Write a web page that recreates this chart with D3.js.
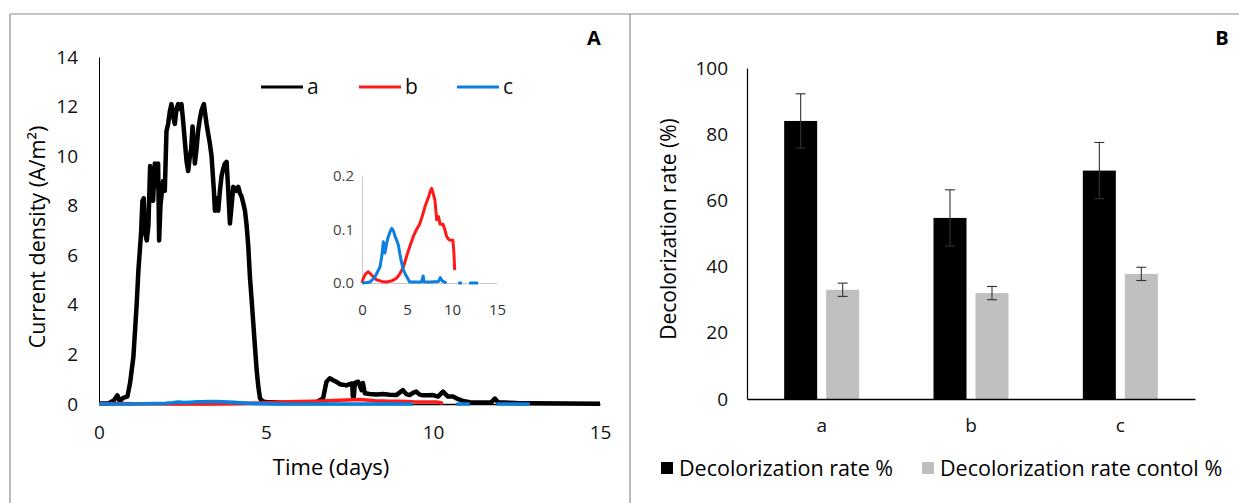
<!DOCTYPE html>
<html>
<head>
<meta charset="utf-8">
<script src="https://cdn.jsdelivr.net/npm/d3@7"></script>
<style>
  body { margin: 0; background: #fff; }
  svg { display: block; font-family: "Open Sans", sans-serif; }
</style>
</head>
<body>
<svg id="chart"></svg>
<script>
// Panel A: current density (A/m²) over time (days)
const seriesA = [
  [0, 0.02], [0.3, 0.03], [0.45, 0.15], [0.55, 0.35], [0.62, 0.1], [0.72, 0.25], [0.85, 0.3],
  [0.93, 0.85], [1.03, 1.9], [1.13, 4.07], [1.18, 5.4], [1.26, 6.9], [1.3, 8.2], [1.34, 8.3],
  [1.38, 6.9], [1.43, 6.6], [1.48, 7.2], [1.53, 9.6], [1.58, 8.5], [1.62, 8.2], [1.67, 9.7],
  [1.72, 8.8], [1.77, 9.7], [1.8, 6.6], [1.84, 8.0], [1.87, 8.4], [1.92, 9.0], [1.97, 8.6],
  [2.02, 11.0], [2.07, 11.3], [2.12, 11.8], [2.17, 12.1], [2.22, 11.6], [2.27, 11.3], [2.32, 11.9],
  [2.37, 12.1], [2.42, 11.9], [2.47, 12.1], [2.52, 11.4], [2.57, 10.6], [2.62, 9.8], [2.67, 9.4],
  [2.72, 10.0], [2.76, 10.3], [2.8, 11.2], [2.84, 10.4], [2.87, 9.7], [2.92, 10.3], [2.97, 11.05],
  [3.02, 11.5], [3.07, 11.85], [3.14, 12.1], [3.18, 11.7], [3.22, 11.3], [3.27, 10.9], [3.32, 10.5],
  [3.37, 10.0], [3.4, 9.4], [3.44, 8.6], [3.47, 7.8], [3.52, 8.3], [3.57, 7.8], [3.62, 8.6],
  [3.67, 9.2], [3.72, 9.5], [3.77, 9.7], [3.82, 9.77], [3.87, 8.6], [3.92, 7.28], [3.97, 8.0],
  [4.02, 8.76], [4.1, 8.6], [4.17, 8.76], [4.22, 8.5], [4.27, 8.36], [4.32, 8.1], [4.37, 7.8],
  [4.42, 7.2], [4.47, 6.35], [4.52, 5.1], [4.57, 4.2], [4.62, 3.25], [4.67, 2.3], [4.72, 1.37],
  [4.77, 0.7], [4.82, 0.23], [4.9, 0.1], [5.0, 0.08], [5.5, 0.05], [6.0, 0.05], [6.5, 0.06],
  [6.71, 0.23], [6.81, 0.9], [6.91, 1.04], [7.0, 0.97], [7.1, 0.9], [7.21, 0.8], [7.3, 0.78],
  [7.41, 0.75], [7.5, 0.8], [7.58, 0.83], [7.6, 0.3], [7.63, 0.3], [7.66, 0.85], [7.76, 0.9],
  [7.86, 0.56], [7.9, 0.85], [7.96, 0.43], [8.1, 0.4], [8.3, 0.38], [8.5, 0.4], [8.7, 0.37],
  [8.9, 0.36], [9.1, 0.56], [9.2, 0.4], [9.3, 0.36], [9.4, 0.45], [9.5, 0.5], [9.6, 0.38],
  [9.7, 0.35], [9.85, 0.35], [10.0, 0.36], [10.15, 0.3], [10.3, 0.5], [10.45, 0.3], [10.6, 0.3],
  [10.7, 0.23], [10.9, 0.12], [11.1, 0.07], [11.5, 0.06], [11.75, 0.07], [11.85, 0.22], [11.95, 0.07],
  [12.5, 0.04], [13, 0.03], [14, 0.02], [15, 0.01]
];

const seriesB = [
  [0, 0.0], [0.15, 0.009], [0.4, 0.017], [0.7, 0.021], [1.07, 0.015], [1.6, 0.006], [2.2, 0.003],
  [2.7, 0.002], [3.3, 0.004], [3.85, 0.009], [4.2, 0.017], [4.6, 0.03], [5.1, 0.058], [5.7, 0.087],
  [6.0, 0.098], [6.4, 0.11], [6.7, 0.125], [7.0, 0.143], [7.4, 0.161], [7.6, 0.172], [7.74, 0.177],
  [7.9, 0.168], [8.1, 0.155], [8.3, 0.118], [8.5, 0.124], [8.67, 0.11], [9.0, 0.11], [9.2, 0.1],
  [9.4, 0.087], [9.6, 0.082], [9.8, 0.08], [10.1, 0.08], [10.2, 0.06], [10.3, 0.024]
];

const seriesC = [
  [0, 0.0], [0.5, 0.001], [0.9, 0.002], [1.4, 0.01], [2.0, 0.03], [2.2, 0.05], [2.37, 0.077],
  [2.55, 0.056], [2.75, 0.075], [2.93, 0.087], [3.1, 0.095], [3.3, 0.102], [3.5, 0.097],
  [3.67, 0.087], [3.85, 0.08], [4.04, 0.071], [4.2, 0.055], [4.4, 0.038], [4.6, 0.024],
  [4.96, 0.012], [5.3, 0.002], [6.0, 0.002], [6.6, 0.002], [6.8, 0.013], [6.9, 0.002],
  [7.5, 0.002], [8.5, 0.003], [8.7, 0.01], [8.9, 0.004], [9.4, 0.0], [9.8, null],
  [10.7, 0.0], [11.1, 0.0], [11.3, null], [11.9, 0.0], [12.9, 0.0]
];

const seriesNames = ["a", "b", "c"];
const seriesColors = ["#000000", "#ff1a1a", "#0a7fe0"];

const mainYTicks = [0, 2, 4, 6, 8, 10, 12, 14];
const mainXTicks = [0, 5, 10, 15];
const insetYTicks = [0, 0.1, 0.2];
const insetXTicks = [0, 5, 10, 15];

// Panel B: decolorization rate (%)
const groups = ["a", "b", "c"];
const rateValues = [84, 54.7, 69];
const rateErrors = [8.2, 8.5, 8.5];
const controlValues = [33, 32, 37.8];
const controlErrors = [2, 2, 2];
const barKeys = ["Decolorization rate %", "Decolorization rate contol %"];
const barColors = ["#000000", "#bfbfbf"];
const barYTicks = [0, 20, 40, 60, 80, 100];

const W = 1239, H = 503;
const svg = d3.select("#chart").attr("width", W).attr("height", H);

// panel frames
const frame = svg.append("g").attr("stroke", "#8a8a8a").attr("stroke-width", 1.2).attr("fill", "none");
frame.append("line").attr("x1", 10).attr("x2", 1239).attr("y1", 14).attr("y2", 14);
frame.append("line").attr("x1", 10).attr("x2", 10).attr("y1", 14).attr("y2", 503);
frame.append("line").attr("x1", 630).attr("x2", 630).attr("y1", 14).attr("y2", 503);

// ---------- Panel A ----------
const x = d3.scaleLinear().domain([0, 15]).range([99, 600]);
const y = d3.scaleLinear().domain([0, 14]).range([404, 57]);

const gA = svg.append("g");

gA.append("g")
  .attr("transform", "translate(99,0)")
  .call(d3.axisLeft(y).tickValues(mainYTicks).tickSize(0).tickSizeOuter(0).tickPadding(21))
  .call(g => g.select(".domain").attr("stroke", "#000").attr("stroke-width", 1))
  .call(g => g.selectAll("text").attr("font-size", 19).attr("fill", "#111").attr("font-family", "Open Sans"));

gA.append("g")
  .attr("transform", "translate(0,404)")
  .call(d3.axisBottom(x).tickValues(mainXTicks).tickSize(0).tickSizeOuter(0).tickPadding(22))
  .call(g => g.select(".domain").attr("stroke", "#000").attr("stroke-width", 1.5))
  .call(g => g.selectAll("text").attr("font-size", 19).attr("fill", "#111").attr("font-family", "Open Sans"));

const line = d3.line()
  .defined(d => d[1] !== null)
  .x(d => x(d[0]))
  .y(d => y(d[1]));

[seriesA, seriesB, seriesC].forEach((s, i) => {
  gA.append("path")
    .datum(s)
    .attr("fill", "none")
    .attr("stroke", seriesColors[i])
    .attr("stroke-width", i === 0 ? 4.5 : 3.5)
    .attr("stroke-linejoin", "round")
    .attr("d", line);
});

// legend
const legX = [261, 359, 457];
seriesNames.forEach((n, i) => {
  gA.append("line")
    .attr("x1", legX[i]).attr("x2", legX[i] + 42)
    .attr("y1", 87).attr("y2", 87)
    .attr("stroke", seriesColors[i]).attr("stroke-width", 3);
  gA.append("text")
    .attr("x", legX[i] + 46).attr("y", 87).attr("dy", "0.35em")
    .attr("font-size", 21).attr("fill", "#111")
    .text(n);
});

gA.append("text")
  .attr("x", 331).attr("y", 467).attr("dy", "0.35em")
  .attr("text-anchor", "middle").attr("font-size", 22).attr("fill", "#000")
  .text("Time (days)");

gA.append("text")
  .attr("transform", "translate(37,237) rotate(-90)")
  .attr("dy", "0.35em")
  .attr("text-anchor", "middle").attr("font-size", 21.5).attr("fill", "#000")
  .text("Current density (A/m²)");

gA.append("text")
  .attr("x", 594).attr("y", 38).attr("dy", "0.35em")
  .attr("text-anchor", "middle").attr("font-size", 20).attr("font-weight", "bold")
  .text("A");

// inset
const xi = d3.scaleLinear().domain([0, 15]).range([362, 497]);
const yi = d3.scaleLinear().domain([0, 0.2]).range([283, 176]);
const gI = gA.append("g");

gI.append("g")
  .attr("transform", "translate(362,0)")
  .call(d3.axisLeft(yi).tickValues(insetYTicks).tickFormat(d3.format(".1f")).tickSize(0).tickSizeOuter(0).tickPadding(8))
  .call(g => g.select(".domain").attr("stroke", "#c8c8c8"))
  .call(g => g.selectAll("text").attr("font-size", 15).attr("fill", "#444").attr("font-family", "Open Sans"));

gI.append("g")
  .attr("transform", "translate(0,283)")
  .call(d3.axisBottom(xi).tickValues(insetXTicks).tickSize(0).tickSizeOuter(0).tickPadding(21))
  .call(g => g.select(".domain").attr("stroke", "#c8c8c8"))
  .call(g => g.selectAll("text").attr("font-size", 15).attr("fill", "#333").attr("font-family", "Open Sans"));

const lineI = d3.line()
  .defined(d => d[1] !== null)
  .x(d => xi(d[0]))
  .y(d => yi(d[1]));

[seriesB, seriesC].forEach((s, i) => {
  gI.append("path")
    .datum(s)
    .attr("fill", "none")
    .attr("stroke", seriesColors[i + 1])
    .attr("stroke-width", 3)
    .attr("stroke-linejoin", "round")
    .attr("d", lineI);
});

// ---------- Panel B ----------
const xb = d3.scaleBand().domain(groups).range([747, 1195]);
const xs = d3.scaleBand().domain(barKeys).range([0, 75]).paddingInner(0.214);
const yb = d3.scaleLinear().domain([0, 100]).range([399, 68]);

const gB = svg.append("g");

const barData = groups.map((g, i) => ({
  group: g,
  bars: [
    { key: barKeys[0], value: rateValues[i], err: rateErrors[i] },
    { key: barKeys[1], value: controlValues[i], err: controlErrors[i] }
  ]
}));

const grp = gB.selectAll(".grp")
  .data(barData)
  .enter().append("g")
  .attr("transform", d => `translate(${xb(d.group) + (xb.bandwidth() - 75) / 2},0)`);

grp.selectAll("rect")
  .data(d => d.bars)
  .enter().append("rect")
  .attr("x", d => xs(d.key))
  .attr("width", xs.bandwidth())
  .attr("y", d => yb(d.value))
  .attr("height", d => yb(0) - yb(d.value))
  .attr("fill", (d, i) => barColors[i]);

const err = grp.selectAll(".err")
  .data(d => d.bars)
  .enter().append("g")
  .attr("stroke", "#333").attr("stroke-width", 1.1);
err.append("line")
  .attr("x1", d => xs(d.key) + xs.bandwidth() / 2).attr("x2", d => xs(d.key) + xs.bandwidth() / 2)
  .attr("y1", d => yb(d.value + d.err)).attr("y2", d => yb(d.value - d.err));
err.append("line")
  .attr("x1", d => xs(d.key) + xs.bandwidth() / 2 - 5).attr("x2", d => xs(d.key) + xs.bandwidth() / 2 + 5)
  .attr("y1", d => yb(d.value + d.err)).attr("y2", d => yb(d.value + d.err));
err.append("line")
  .attr("x1", d => xs(d.key) + xs.bandwidth() / 2 - 5).attr("x2", d => xs(d.key) + xs.bandwidth() / 2 + 5)
  .attr("y1", d => yb(d.value - d.err)).attr("y2", d => yb(d.value - d.err));

gB.append("g")
  .attr("transform", "translate(747,0)")
  .call(d3.axisLeft(yb).tickValues(barYTicks).tickSize(0).tickSizeOuter(0).tickPadding(19))
  .call(g => g.select(".domain").attr("stroke", "#000").attr("stroke-width", 1.2))
  .call(g => g.selectAll("text").attr("font-size", 19).attr("fill", "#111").attr("font-family", "Open Sans"));

gB.append("g")
  .attr("transform", "translate(0,399)")
  .call(d3.axisBottom(xb).tickSize(0).tickSizeOuter(0).tickPadding(20))
  .call(g => g.select(".domain").attr("stroke", "#000").attr("stroke-width", 1.5))
  .call(g => g.selectAll("text").attr("font-size", 19).attr("fill", "#111").attr("font-family", "Open Sans"));

gB.append("text")
  .attr("transform", "translate(669,229) rotate(-90)")
  .attr("dy", "0.35em")
  .attr("text-anchor", "middle").attr("font-size", 21).attr("fill", "#000")
  .text("Decolorization rate (%)");

gB.append("text")
  .attr("x", 1222).attr("y", 38).attr("dy", "0.35em")
  .attr("text-anchor", "middle").attr("font-size", 20).attr("font-weight", "bold")
  .text("B");

// legend B
const legBX = [661, 922];
barKeys.forEach((k, i) => {
  gB.append("rect")
    .attr("x", legBX[i]).attr("y", 462).attr("width", 12).attr("height", 12)
    .attr("fill", barColors[i]);
  gB.append("text")
    .attr("x", legBX[i] + 18).attr("y", 468).attr("dy", "0.35em")
    .attr("font-size", 21.5).attr("fill", "#000")
    .text(k);
});
</script>
</body>
</html>
